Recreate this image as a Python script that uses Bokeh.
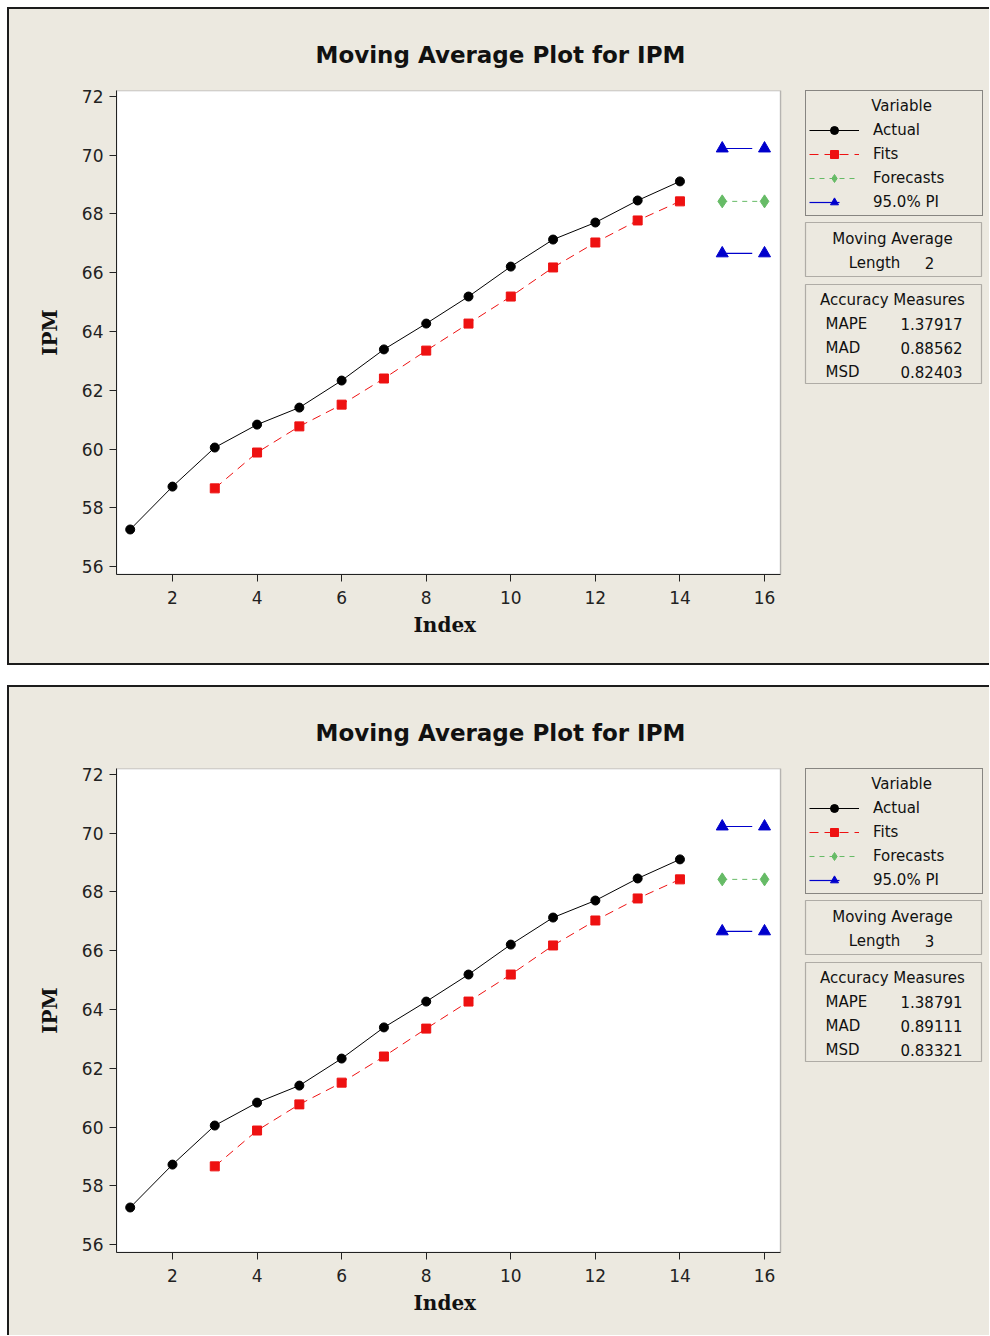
from bokeh.plotting import figure
from bokeh.models import (Legend, LegendItem, Label, BoxAnnotation, Range1d,
                          FixedTicker, Title)
from bokeh.layouts import column
from bokeh.embed import file_html
from bokeh.resources import INLINE

# ---------------- data ----------------
index = list(range(1, 15))
actual = [57.26, 58.72, 60.05, 60.83, 61.41, 62.33, 63.39, 64.27, 65.19,
          66.21, 67.13, 67.71, 68.46, 69.11]
fit_index = list(range(3, 15))
fits = [58.66, 59.88, 60.77, 61.51, 62.40, 63.35, 64.27, 65.19, 66.18,
        67.03, 67.78, 68.43]
fc_index = [15, 16]
forecasts = [68.43, 68.43]
pi_upper = [70.23, 70.23]
pi_lower = [66.66, 66.66]

x_ticks = [2, 4, 6, 8, 10, 12, 14, 16]
y_ticks = [56, 58, 60, 62, 64, 66, 68, 70, 72]

legend_labels = ["Actual", "Fits", "Forecasts", "95.0% PI"]
ma_lengths = ["2", "3"]
measure_names = ["MAPE", "MAD", "MSD"]
measure_values = [["1.37917", "0.88562", "0.82403"],
                  ["1.38791", "0.89111", "0.83321"]]

TITLE = "Moving Average Plot for IPM"
BEIGE = "#ECE9E0"
SANS = "DejaVu Sans"
SERIF = "DejaVu Serif"

# axis extents (plot box spans X_MIN..X_BOX, legend area beyond it)
X_MIN, X_BOX, X_MAX = 0.676, 16.378, 21.32
Y_MIN, Y_MAX = 55.728, 72.204


def make_panel(k, height, bottom_border):
    p = figure(width=982, height=height, output_backend="svg",
               toolbar_location=None,
               x_range=Range1d(X_MIN, X_MAX), y_range=Range1d(Y_MIN, Y_MAX),
               min_border_left=109, min_border_right=0,
               min_border_top=83, min_border_bottom=height - 567)
    p.border_fill_alpha = 0
    p.background_fill_color = BEIGE
    p.outline_line_color = None
    p.grid.visible = False
    border = "linear-gradient(#1c1c1c,#1c1c1c) left top/2px 100% no-repeat, " \
             "linear-gradient(#1c1c1c,#1c1c1c) left top/100% 2px no-repeat"
    if bottom_border:
        border += ", linear-gradient(#1c1c1c,#1c1c1c) left bottom/100% 2px no-repeat"
    p.styles = {"background": border + ", " + BEIGE}

    # white plotting box
    p.add_layout(BoxAnnotation(left=X_MIN, right=X_BOX, fill_color="white",
                               fill_alpha=1, line_color="#222222",
                               line_width=1.4, level="underlay"))

    # title
    p.title.text = TITLE
    p.title.align = "left"
    p.title.offset = 199
    p.title.standoff = 46
    p.title.text_font = SANS
    p.title.text_font_style = "bold"
    p.title.text_font_size = "23px"
    p.title.text_color = "#111111"

    for ax in (p.xaxis[0], p.yaxis[0]):
        ax.axis_line_color = "#222222"
        ax.major_tick_line_color = "#222222"
        ax.major_tick_out = 7
        ax.major_tick_in = 0
        ax.minor_tick_line_color = None
        ax.major_label_text_font = SANS
        ax.major_label_text_font_size = "17px"
        ax.major_label_text_color = "#222222"
        ax.axis_label_text_font = SERIF
        ax.axis_label_text_font_style = "bold"
        ax.axis_label_text_font_size = "20px"
        ax.axis_label_text_color = "#111111"
    p.xaxis.bounds = (X_MIN, X_BOX)
    p.xaxis.ticker = FixedTicker(ticks=x_ticks)
    p.yaxis.ticker = FixedTicker(ticks=y_ticks)
    p.yaxis.axis_label = "IPM"
    p.xaxis.major_label_standoff = 9
    p.yaxis.major_label_standoff = 6
    p.yaxis.axis_label_standoff = 17
    # x-axis title, centred under the plotting box only
    p.add_layout(Title(text="Index", align="left", offset=297, standoff=8,
                       text_font=SERIF, text_font_style="bold",
                       text_font_size="20px", text_color="#111111"), "below")

    # data
    la = p.line(index, actual, line_color="black", line_width=1)
    sa = p.scatter(index, actual, marker="circle", size=9,
                   fill_color="black", line_color="black")
    lf = p.line(fit_index, fits, line_color="#EE1111", line_width=1,
                line_dash="9 6")
    sf = p.scatter(fit_index, fits, marker="square", size=9,
                   fill_color="#EE1111", line_color="#EE1111")
    lfc = p.line(fc_index, forecasts, line_color="#66BB66", line_width=1,
                 line_dash="5 5")
    sfc = p.scatter(fc_index, forecasts, marker="diamond", size=13,
                    fill_color="#66BB66", line_color="#66BB66")
    lu = p.line(fc_index, pi_upper, line_color="#0000CC", line_width=1.2,
                line_dash="30 40")
    su = p.scatter(fc_index, pi_upper, marker="triangle", size=12,
                   fill_color="#0000CC", line_color="#0000CC")
    ll = p.line(fc_index, pi_lower, line_color="#0000CC", line_width=1.2,
                line_dash="30 40")
    sl = p.scatter(fc_index, pi_lower, marker="triangle", size=12,
                   fill_color="#0000CC", line_color="#0000CC")

    # boxes of the right-hand side (drawn first, legend/labels on top)
    fh = 484  # frame height in px
    boxes = [(fh - 132, fh - 186), (fh - 194, fh - 293)]
    for top, bottom in boxes:
        p.add_layout(BoxAnnotation(left=689, right=865, top=top,
                                   bottom=bottom, left_units="screen",
                                   right_units="screen", top_units="screen",
                                   bottom_units="screen", fill_color=BEIGE,
                                   fill_alpha=1, line_color="#222222",
                                   line_width=1.2, level="overlay"))

    items = [LegendItem(label=legend_labels[0], renderers=[la, sa]),
             LegendItem(label=legend_labels[1], renderers=[lf, sf]),
             LegendItem(label=legend_labels[2], renderers=[lfc, sfc]),
             LegendItem(label=legend_labels[3], renderers=[lu, su])]
    legend = Legend(items=items, location=(689, fh - 126),
                    title=" ", title_text_font_size="15px", title_standoff=9,
                    padding=3, spacing=4, glyph_width=50, glyph_height=20,
                    label_height=20, label_standoff=14, label_width=106,
                    label_text_font=SANS, label_text_font_size="15px",
                    label_text_color="#111111",
                    border_line_color="#222222", border_line_width=1.2,
                    background_fill_alpha=0, margin=0)
    p.add_layout(legend, "center")

    def txt(x, y, s, align="left"):
        p.add_layout(Label(x=x, y=y, x_units="screen", y_units="screen",
                           text=s, text_font=SANS, level="overlay",
                           text_font_size="15px", text_color="#111111",
                           text_align=align, text_baseline="middle"))

    txt(785, fh - 15, "Variable", "center")
    txt(776, fh - 148, "Moving Average", "center")
    txt(758, fh - 172, "Length", "center")
    txt(813, fh - 172, ma_lengths[k], "center")
    txt(776, fh - 209, "Accuracy Measures", "center")
    for i, (nm, vv) in enumerate(zip(measure_names, measure_values[k])):
        txt(709, fh - 233 - 24 * i, nm, "left")
        txt(784, fh - 233 - 24 * i, vv, "left")
    return p


p1 = make_panel(0, 658, True)
p2 = make_panel(1, 650, False)
layout = column(p1, p2, spacing=20, margin=(7, 0, 0, 7))

open("out.html", "w").write(file_html(layout, INLINE))
